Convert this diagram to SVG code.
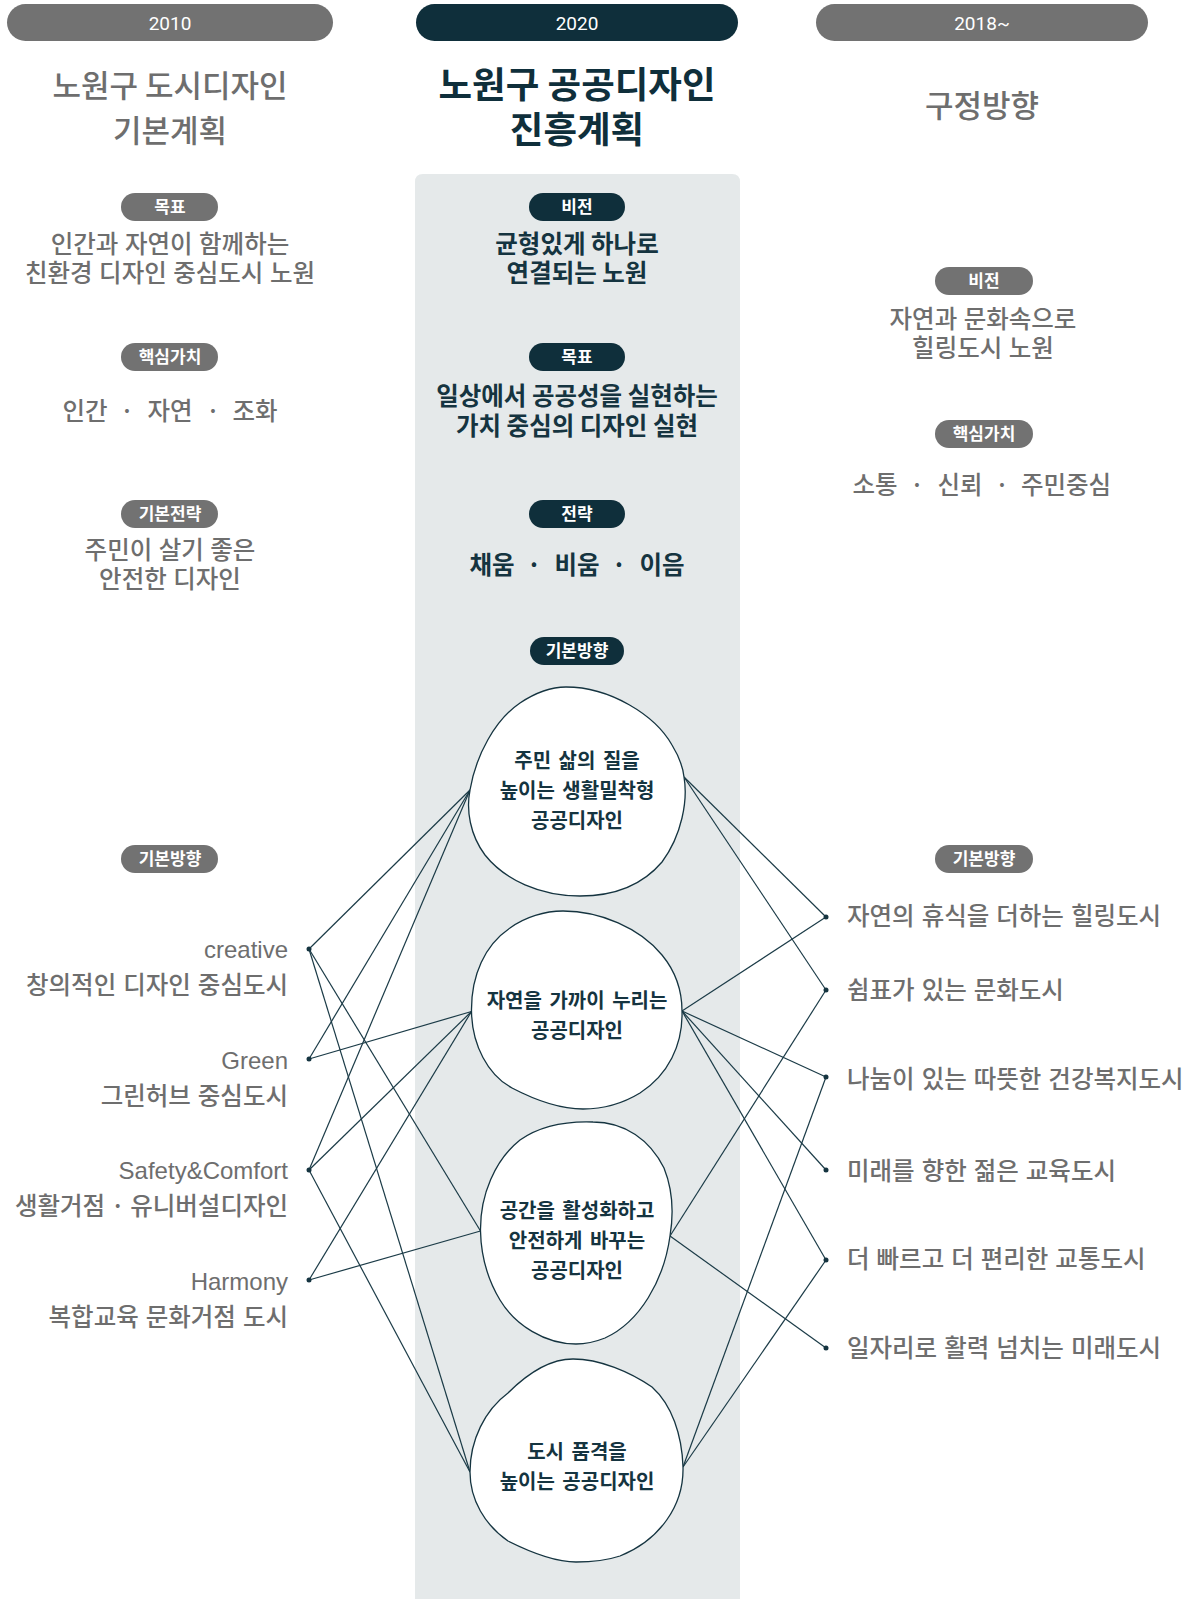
<svg xmlns="http://www.w3.org/2000/svg" width="1200" height="1599" viewBox="0 0 1200 1599">
<style>
text{font-family:"Noto Sans CJK KR","Noto Sans",sans-serif;}
.yr{font-family:Roboto,"Liberation Sans",sans-serif;font-size:19px;fill:#fff;text-anchor:middle;}
.pg{fill:#727272;}
.pd{fill:#0f2f3b;}
.pt{font-size:17px;font-weight:700;fill:#fff;text-anchor:middle;}
.tg{font-size:31px;font-weight:500;fill:#6e6e6e;text-anchor:middle;}
.td{font-size:36.5px;font-weight:700;fill:#0f2f3b;text-anchor:middle;}
.sg{font-size:24.5px;font-weight:500;fill:#6e6e6e;text-anchor:middle;word-spacing:1px;}
.sd{font-size:24.5px;font-weight:700;fill:#153440;text-anchor:middle;}
.lg{font-size:24.5px;font-weight:500;fill:#6e6e6e;word-spacing:1.5px;}
.en{font-family:"Liberation Sans",Arial,sans-serif;font-size:24px;fill:#6e6e6e;text-anchor:end;}
.bl{fill:#fff;stroke:#153440;stroke-width:1.3;}
.bt{font-size:20px;font-weight:700;fill:#153440;text-anchor:middle;word-spacing:3px;}
.cn line{stroke:#1b3b47;stroke-width:1.2;}
.dot{fill:#153440;}
</style>

<!-- center panel -->
<path d="M415,182 Q415,174 423,174 L732,174 Q740,174 740,182 L740,1599 L415,1599 Z" fill="#e5e9ea"/>

<!-- year pills -->
<g id="year-2010"><rect class="pg" x="7" y="4" width="326" height="37" rx="18.5"/><text class="yr" x="170" y="29.5">2010</text></g>
<g id="year-2020"><rect class="pd" x="416" y="4" width="322" height="37" rx="18.5"/><text class="yr" x="577" y="29.5">2020</text></g>
<g id="year-2018"><rect class="pg" x="816" y="4" width="332" height="37" rx="18.5"/><text class="yr" x="982" y="29.5">2018~</text></g>

<!-- titles -->
<g id="title-left"><text class="tg"><tspan x="170" y="97">노원구 도시디자인</tspan><tspan x="170" y="142">기본계획</tspan></text></g>
<g id="title-center"><text class="td"><tspan x="577" y="98">노원구 공공디자인</tspan><tspan x="577" y="143">진흥계획</tspan></text></g>
<g id="title-right"><text class="tg" x="982" y="117">구정방향</text></g>

<!-- left column -->
<g id="left-goal">
<rect class="pg" x="121" y="193" width="97" height="28" rx="14"/><text class="pt" x="170" y="213">목표</text>
<text class="sg"><tspan x="170" y="253">인간과 자연이 함께하는</tspan><tspan x="170" y="282">친환경 디자인 중심도시 노원</tspan></text>
</g>
<g id="left-value">
<rect class="pg" x="121" y="343" width="97" height="28" rx="14"/><text class="pt" x="170" y="363">핵심가치</text>
<text class="sg" y="420"><tspan x="85">인간</tspan><tspan x="127">·</tspan><tspan x="170">자연</tspan><tspan x="213">·</tspan><tspan x="255">조화</tspan></text>
</g>
<g id="left-strategy">
<rect class="pg" x="121" y="500" width="97" height="28" rx="14"/><text class="pt" x="170" y="520">기본전략</text>
<text class="sg"><tspan x="170" y="559">주민이 살기 좋은</tspan><tspan x="170" y="588">안전한 디자인</tspan></text>
</g>
<g id="left-direction-label">
<rect class="pg" x="121" y="845" width="97" height="28" rx="14"/><text class="pt" x="170" y="865">기본방향</text>
</g>
<g id="left-creative"><text class="en" x="288" y="958">creative</text><text class="lg" x="288" y="994" text-anchor="end">창의적인 디자인 중심도시</text></g>
<g id="left-green"><text class="en" x="288" y="1069">Green</text><text class="lg" x="288" y="1105" text-anchor="end">그린허브 중심도시</text></g>
<g id="left-safety"><text class="en" x="288" y="1179">Safety&amp;Comfort</text><text class="lg" x="288" y="1215" text-anchor="end" style="word-spacing:0">생활거점 · 유니버설디자인</text></g>
<g id="left-harmony"><text class="en" x="288" y="1290">Harmony</text><text class="lg" x="288" y="1326" text-anchor="end">복합교육 문화거점 도시</text></g>

<!-- center column -->
<g id="center-vision">
<rect class="pd" x="529" y="193" width="96" height="28" rx="14"/><text class="pt" x="577" y="213">비전</text>
<text class="sd"><tspan x="577" y="253">균형있게 하나로</tspan><tspan x="577" y="282">연결되는 노원</tspan></text>
</g>
<g id="center-goal">
<rect class="pd" x="529" y="343" width="96" height="28" rx="14"/><text class="pt" x="577" y="363">목표</text>
<text class="sd"><tspan x="577" y="405">일상에서 공공성을 실현하는</tspan><tspan x="577" y="435">가치 중심의 디자인 실현</tspan></text>
</g>
<g id="center-strategy">
<rect class="pd" x="529" y="500" width="96" height="28" rx="14"/><text class="pt" x="577" y="520">전략</text>
<text class="sd" y="574"><tspan x="492">채움</tspan><tspan x="534">·</tspan><tspan x="577">비움</tspan><tspan x="619">·</tspan><tspan x="662">이음</tspan></text>
</g>
<g id="center-direction-label">
<rect class="pd" x="530" y="637" width="94" height="28" rx="14"/><text class="pt" x="577" y="657">기본방향</text>
</g>

<!-- right column -->
<g id="right-vision">
<rect class="pg" x="935" y="267" width="98" height="28" rx="14"/><text class="pt" x="984" y="287">비전</text>
<text class="sg"><tspan x="983" y="328">자연과 문화속으로</tspan><tspan x="983" y="357">힐링도시 노원</tspan></text>
</g>
<g id="right-value">
<rect class="pg" x="935" y="420" width="98" height="28" rx="14"/><text class="pt" x="984" y="440">핵심가치</text>
<text class="sg" y="494"><tspan x="875">소통</tspan><tspan x="917">·</tspan><tspan x="960">신뢰</tspan><tspan x="1002">·</tspan><tspan x="1066">주민중심</tspan></text>
</g>
<g id="right-direction-label">
<rect class="pg" x="935" y="845" width="98" height="28" rx="14"/><text class="pt" x="984" y="865">기본방향</text>
</g>
<g id="right-1"><text class="lg" x="847" y="925">자연의 휴식을 더하는 힐링도시</text></g>
<g id="right-2"><text class="lg" x="847" y="999">쉼표가 있는 문화도시</text></g>
<g id="right-3"><text class="lg" x="847" y="1088">나눔이 있는 따뜻한 건강복지도시</text></g>
<g id="right-4"><text class="lg" x="847" y="1180">미래를 향한 젊은 교육도시</text></g>
<g id="right-5"><text class="lg" x="847" y="1268">더 빠르고 더 편리한 교통도시</text></g>
<g id="right-6"><text class="lg" x="847" y="1357">일자리로 활력 넘치는 미래도시</text></g>

<!-- connectors -->
<g id="connectors" class="cn">
<line x1="309" y1="949" x2="470" y2="790"/>
<line x1="309" y1="949" x2="480.5" y2="1231"/>
<line x1="309" y1="949" x2="470" y2="1472"/>
<line x1="309" y1="1059" x2="470" y2="790"/>
<line x1="309" y1="1059" x2="471.5" y2="1011.5"/>
<line x1="309" y1="1170" x2="470" y2="790"/>
<line x1="309" y1="1170" x2="471.5" y2="1011.5"/>
<line x1="309" y1="1170" x2="470" y2="1472"/>
<line x1="309" y1="1280" x2="471.5" y2="1011.5"/>
<line x1="309" y1="1280" x2="480.5" y2="1231"/>
<line x1="684" y1="777" x2="826" y2="917"/>
<line x1="684" y1="777" x2="826" y2="990"/>
<line x1="682" y1="1011" x2="826" y2="917"/>
<line x1="682" y1="1011" x2="826" y2="1077"/>
<line x1="682" y1="1011" x2="826" y2="1170"/>
<line x1="682" y1="1011" x2="826" y2="1260"/>
<line x1="670" y1="1236" x2="826" y2="990"/>
<line x1="670" y1="1236" x2="826" y2="1348"/>
<line x1="683" y1="1467" x2="826" y2="1077"/>
<line x1="683" y1="1467" x2="826" y2="1260"/>
<circle class="dot" cx="309" cy="949" r="2.5"/>
<circle class="dot" cx="309" cy="1059" r="2.5"/>
<circle class="dot" cx="309" cy="1170" r="2.5"/>
<circle class="dot" cx="309" cy="1280" r="2.5"/>
<circle class="dot" cx="826" cy="917" r="2.5"/>
<circle class="dot" cx="826" cy="990" r="2.5"/>
<circle class="dot" cx="826" cy="1077" r="2.5"/>
<circle class="dot" cx="826" cy="1170" r="2.5"/>
<circle class="dot" cx="826" cy="1260" r="2.5"/>
<circle class="dot" cx="826" cy="1348" r="2.5"/>
</g>

<!-- blobs -->
<g id="blob-1">
<path class="bl" d="M566,687 C610,687 655,715 672,745 C680,758 683,768 684,777 C688,800 682,835 662,862 C640,888 610,896 580,896 C540,896 505,880 485,855 C470,835 466,810 470,790 C476,755 495,720 520,703 C535,693 550,687 566,687 Z"/>
<text class="bt"><tspan x="577" y="768">주민 삶의 질을</tspan><tspan x="577" y="798">높이는 생활밀착형</tspan><tspan x="577" y="828">공공디자인</tspan></text>
</g>
<g id="blob-2">
<path class="bl" d="M563,911 C600,911 640,928 662,955 C676,972 682,992 682,1011 C683,1045 668,1075 640,1093 C622,1104 603,1109 583,1109 C560,1109 535,1100 512,1088 C488,1075 472,1045 471.5,1011.5 C471,975 485,945 510,928 C525,917 545,911 563,911 Z"/>
<text class="bt"><tspan x="577" y="1008">자연을 가까이 누리는</tspan><tspan x="577" y="1038">공공디자인</tspan></text>
</g>
<g id="blob-3">
<path class="bl" d="M593,1122 C625,1122 650,1140 664,1168 C672,1188 674,1212 670,1236 C664,1280 640,1322 605,1338 C595,1342 585,1344 576,1344 C545,1344 515,1325 500,1300 C488,1280 481,1255 480.5,1231 C480,1195 495,1160 520,1140 C540,1126 565,1121 593,1122 Z"/>
<text class="bt"><tspan x="577" y="1218">공간을 활성화하고</tspan><tspan x="577" y="1248">안전하게 바꾸는</tspan><tspan x="577" y="1278">공공디자인</tspan></text>
</g>
<g id="blob-4">
<path class="bl" d="M573,1359 C600,1359 630,1372 652,1387 C672,1405 682,1435 683,1467 C684,1505 660,1540 620,1556 C605,1561 590,1562 576,1562 C555,1562 530,1552 508,1541 C485,1525 470,1500 470,1472 C470,1440 485,1410 508,1393 C528,1373 550,1359 573,1359 Z"/>
<text class="bt"><tspan x="577" y="1459">도시 품격을</tspan><tspan x="577" y="1489">높이는 공공디자인</tspan></text>
</g>
</svg>
